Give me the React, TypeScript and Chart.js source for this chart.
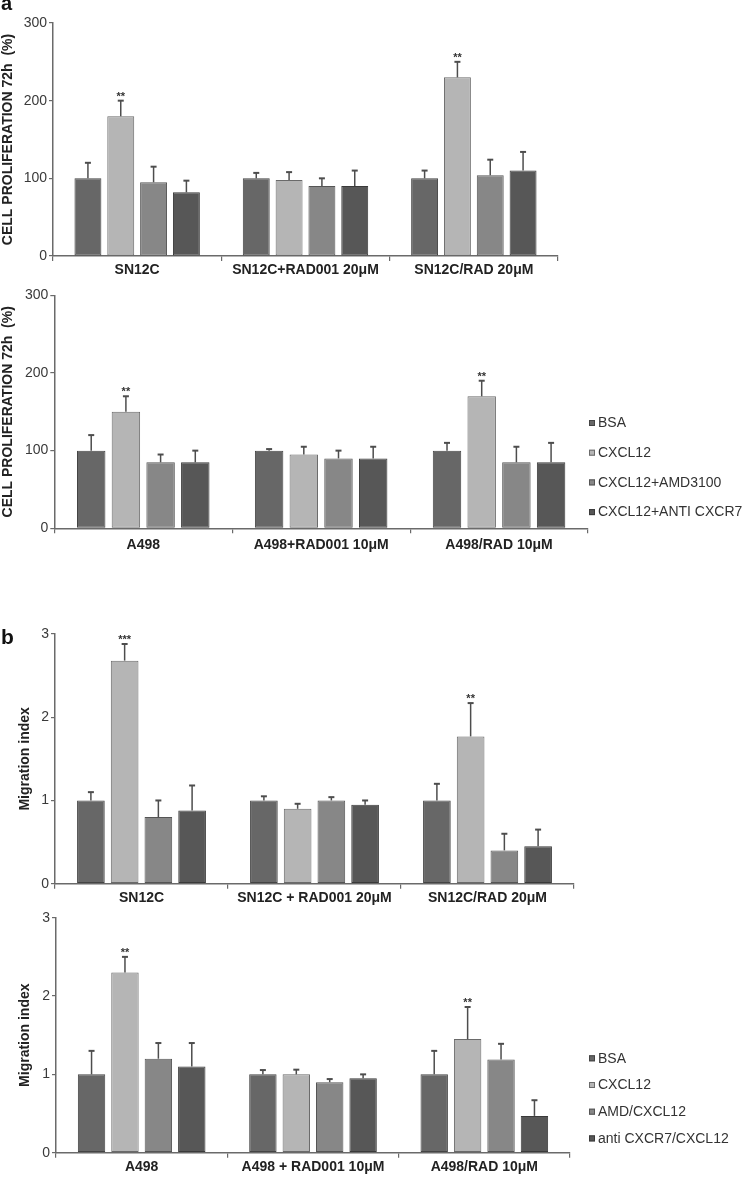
import React, { useEffect, useRef } from "react";
import { Chart, registerables } from "chart.js";

Chart.register(...registerables);

const FONT = "'Liberation Sans', Arial, Helvetica, sans-serif";

// ---------- Panel a (cell proliferation, %) ----------
const aTopCategories = ["SN12C", "SN12C+RAD001 20μM", "SN12C/RAD 20μM"];
const aBottomCategories = ["A498", "A498+RAD001 10μM", "A498/RAD 10μM"];
const aSeriesNames = ["BSA", "CXCL12", "CXCL12+AMD3100", "CXCL12+ANTI CXCR7"];
const aYTicks = [0, 100, 200, 300];
const aYTitle = "CELL PROLIFERATION 72h  (%)";

const aTopBSA = [100, 100, 100];
const aTopCXCL12 = [180, 98, 230];
const aTopAMD = [95, 90, 104];
const aTopAnti = [82, 90, 110];
const aTopBSAErr = [20, 7, 10];
const aTopCXCL12Err = [20, 10, 20];
const aTopAMDErr = [20, 10, 20];
const aTopAntiErr = [15, 20, 24];
const aTopStars = ["**", "", "**"];

const aBotBSA = [100, 100, 100];
const aBotCXCL12 = [150, 95, 170];
const aBotAMD = [85, 90, 85];
const aBotAnti = [85, 90, 85];
const aBotBSAErr = [20, 2, 10];
const aBotCXCL12Err = [20, 10, 20];
const aBotAMDErr = [10, 10, 20];
const aBotAntiErr = [15, 15, 25];
const aBotStars = ["**", "", "**"];

// ---------- Panel b (migration index) ----------
const bTopCategories = ["SN12C", "SN12C + RAD001 20μM", "SN12C/RAD 20μM"];
const bBottomCategories = ["A498", "A498 + RAD001 10μM", "A498/RAD 10μM"];
const bSeriesNames = ["BSA", "CXCL12", "AMD/CXCL12", "anti CXCR7/CXCL12"];
const bYTicks = [0, 1, 2, 3];
const bYTitle = "Migration index";

const bTopBSA = [1.0, 1.0, 1.0];
const bTopCXCL12 = [2.68, 0.9, 1.77];
const bTopAMD = [0.8, 1.0, 0.4];
const bTopAnti = [0.88, 0.95, 0.45];
const bTopBSAErr = [0.1, 0.05, 0.2];
const bTopCXCL12Err = [0.2, 0.06, 0.4];
const bTopAMDErr = [0.2, 0.04, 0.2];
const bTopAntiErr = [0.3, 0.05, 0.2];
const bTopStars = ["***", "", "**"];

const bBotBSA = [1.0, 1.0, 1.0];
const bBotCXCL12 = [2.3, 1.0, 1.45];
const bBotAMD = [1.2, 0.9, 1.19];
const bBotAnti = [1.1, 0.95, 0.47];
const bBotBSAErr = [0.3, 0.055, 0.3];
const bBotCXCL12Err = [0.2, 0.06, 0.41];
const bBotAMDErr = [0.2, 0.04, 0.2];
const bBotAntiErr = [0.3, 0.05, 0.2];
const bBotStars = ["**", "", "**"];

// ---------- styles ----------
const FILLS = ["#676767", "#b5b5b5", "#878787", "#575757"];
const BORDERS = ["#444444", "#6a6a6a", "#555555", "#3a3a3a"];
const AXIS = "#6a6a6a";

const errorBarPlugin = {
  id: "errorBars",
  afterDatasetsDraw(chart: any) {
    const { ctx } = chart;
    const y = chart.scales.y;
    chart.data.datasets.forEach((ds: any, i: number) => {
      const meta = chart.getDatasetMeta(i);
      const errs = ds.errors || [];
      const stars = ds.stars || [];
      meta.data.forEach((el: any, j: number) => {
        const v = ds.data[j];
        const e = errs[j] || 0;
        const top = y.getPixelForValue(v);
        const cap = y.getPixelForValue(v + e);
        ctx.save();
        ctx.strokeStyle = "#4d4d4d";
        ctx.lineWidth = 1.5;
        ctx.beginPath();
        ctx.moveTo(el.x, top);
        ctx.lineTo(el.x, cap);
        ctx.stroke();
        ctx.lineWidth = 2;
        ctx.beginPath();
        ctx.moveTo(el.x - 3, cap);
        ctx.lineTo(el.x + 3, cap);
        ctx.stroke();
        if (stars[j]) {
          ctx.fillStyle = "#333";
          ctx.font = `bold 11px ${FONT}`;
          ctx.textAlign = "center";
          ctx.textBaseline = "alphabetic";
          ctx.fillText(stars[j], el.x, cap - 1);
        }
        ctx.restore();
      });
    });
  },
};

const sideLegendPlugin = {
  id: "sideLegend",
  afterDraw(chart: any, _args: any, opts: any) {
    if (!opts || !opts.show) return;
    const { ctx, chartArea } = chart;
    chart.data.datasets.forEach((ds: any, i: number) => {
      const yRow = chartArea.bottom - opts.firstOffset + i * opts.spacing;
      ctx.save();
      ctx.fillStyle = ds.backgroundColor;
      ctx.fillRect(opts.x, yRow - 3, 6, 6);
      ctx.strokeStyle = ds.borderColor;
      ctx.lineWidth = 1;
      ctx.strokeRect(opts.x + 0.5, yRow - 2.5, 5, 5);
      ctx.fillStyle = "#333";
      ctx.font = `${opts.fontSize}px ${FONT}`;
      ctx.textAlign = "left";
      ctx.textBaseline = "middle";
      ctx.fillText(ds.label, opts.x + 9, yRow + 0.5);
      ctx.restore();
    });
  },
};

type PanelSpec = {
  top: number;
  height: number;
  padTop: number;
  padRight: number;
  yWidth: number;
  xHeight: number;
  categories: string[];
  names: string[];
  values: number[][];
  errors: number[][];
  stars: string[];
  yTicks: number[];
  yTitle: string;
  titlePad: number;
  tickFont: number;
  xLabelPad: number;
  legend?: { x: number; firstOffset: number; spacing: number; fontSize: number };
};

function makeConfig(p: PanelSpec): any {
  const datasets = p.names.map((name, i) => ({
    label: name,
    data: p.values[i],
    errors: p.errors[i],
    stars: i === 1 ? p.stars : [],
    backgroundColor: FILLS[i],
    borderColor: BORDERS[i],
    borderWidth: 1,
    borderSkipped: false,
    categoryPercentage: 0.78,
    barPercentage: 0.82,
  }));
  const yMax = p.yTicks[p.yTicks.length - 1];
  return {
    type: "bar",
    data: { labels: p.categories, datasets },
    plugins: [errorBarPlugin, sideLegendPlugin],
    options: {
      responsive: false,
      animation: false,
      events: [],
      layout: { padding: { top: p.padTop, right: p.padRight, bottom: 0, left: 0 } },
      plugins: {
        legend: { display: false },
        tooltip: { enabled: false },
        sideLegend: p.legend ? { show: true, ...p.legend } : { show: false },
      },
      scales: {
        x: {
          type: "category",
          offset: true,
          afterFit: (s: any) => {
            s.height = p.xHeight;
          },
          grid: {
            display: true,
            drawOnChartArea: false,
            drawTicks: true,
            tickLength: 5,
            color: AXIS,
            lineWidth: 1.2,
            offset: true,
          },
          border: { display: true, color: AXIS, width: 1.5 },
          ticks: {
            color: "#222",
            font: { family: FONT, size: 14, weight: "bold" },
            padding: p.xLabelPad,
            maxRotation: 0,
            autoSkip: false,
          },
        },
        y: {
          min: 0,
          max: yMax,
          afterFit: (s: any) => {
            s.width = p.yWidth;
          },
          afterBuildTicks: (s: any) => {
            s.ticks = p.yTicks.map((v) => ({ value: v }));
          },
          grid: {
            display: true,
            drawOnChartArea: false,
            drawTicks: true,
            tickLength: 4,
            color: AXIS,
            lineWidth: 1.2,
          },
          border: { display: true, color: AXIS, width: 1.5 },
          ticks: {
            color: "#3a3a3a",
            font: { family: FONT, size: p.tickFont },
            padding: 2,
          },
          title: {
            display: true,
            text: p.yTitle,
            color: "#222",
            font: { family: FONT, size: 14, weight: "bold" },
            padding: { top: p.titlePad, bottom: 0 },
          },
        },
      },
    },
  };
}

const panels: PanelSpec[] = [
  {
    top: 0,
    height: 290,
    padTop: 23,
    padRight: 188,
    yWidth: 53,
    xHeight: 34,
    categories: aTopCategories,
    names: aSeriesNames,
    values: [aTopBSA, aTopCXCL12, aTopAMD, aTopAnti],
    errors: [aTopBSAErr, aTopCXCL12Err, aTopAMDErr, aTopAntiErr],
    stars: aTopStars,
    yTicks: aYTicks,
    yTitle: aYTitle,
    titlePad: 0,
    tickFont: 14,
    xLabelPad: 1,
  },
  {
    top: 275,
    height: 300,
    padTop: 20.3,
    padRight: 158,
    yWidth: 54.3,
    xHeight: 46.7,
    categories: aBottomCategories,
    names: aSeriesNames,
    values: [aBotBSA, aBotCXCL12, aBotAMD, aBotAnti],
    errors: [aBotBSAErr, aBotCXCL12Err, aBotAMDErr, aBotAntiErr],
    stars: aBotStars,
    yTicks: aYTicks,
    yTitle: aYTitle,
    titlePad: 0,
    tickFont: 14,
    xLabelPad: 3,
    legend: { x: 589, firstOffset: 105.3, spacing: 29.7, fontSize: 14 },
  },
  {
    top: 610,
    height: 300,
    padTop: 24,
    padRight: 172,
    yWidth: 55,
    xHeight: 26.3,
    categories: bTopCategories,
    names: bSeriesNames,
    values: [bTopBSA, bTopCXCL12, bTopAMD, bTopAnti],
    errors: [bTopBSAErr, bTopCXCL12Err, bTopAMDErr, bTopAntiErr],
    stars: bTopStars,
    yTicks: bYTicks,
    yTitle: bYTitle,
    titlePad: 16.6,
    tickFont: 14,
    xLabelPad: 1,
  },
  {
    top: 905,
    height: 274,
    padTop: 12.7,
    padRight: 176,
    yWidth: 56,
    xHeight: 26.3,
    categories: bBottomCategories,
    names: bSeriesNames,
    values: [bBotBSA, bBotCXCL12, bBotAMD, bBotAnti],
    errors: [bBotBSAErr, bBotCXCL12Err, bBotAMDErr, bBotAntiErr],
    stars: bBotStars,
    yTicks: bYTicks,
    yTitle: bYTitle,
    titlePad: 16.6,
    tickFont: 14,
    xLabelPad: 1,
    legend: { x: 589, firstOffset: 94.4, spacing: 26.7, fontSize: 14 },
  },
];

function Panel({ spec }: { spec: PanelSpec }) {
  const ref = useRef<HTMLCanvasElement | null>(null);
  useEffect(() => {
    if (!ref.current) return;
    const chart = new Chart(ref.current, makeConfig(spec));
    return () => chart.destroy();
  }, [spec]);
  return (
    <canvas
      ref={ref}
      width={746}
      height={spec.height}
      style={{ position: "absolute", left: 0, top: spec.top, width: 746, height: spec.height }}
    />
  );
}

export default function App() {
  return (
    <div
      style={{
        position: "absolute",
        left: 0,
        top: 0,
        width: 746,
        height: 1179,
        background: "#fff",
        overflow: "hidden",
        fontFamily: FONT,
      }}
    >
      {panels.map((p, i) => (
        <Panel key={i} spec={p} />
      ))}
      <div
        style={{
          position: "absolute",
          left: 1,
          top: -7,
          fontSize: 20,
          lineHeight: "20px",
          fontWeight: "bold",
          color: "#111",
        }}
      >
        a
      </div>
      <div
        style={{
          position: "absolute",
          left: 1,
          top: 625.5,
          fontSize: 21,
          lineHeight: "21px",
          fontWeight: "bold",
          color: "#111",
        }}
      >
        b
      </div>
    </div>
  );
}
